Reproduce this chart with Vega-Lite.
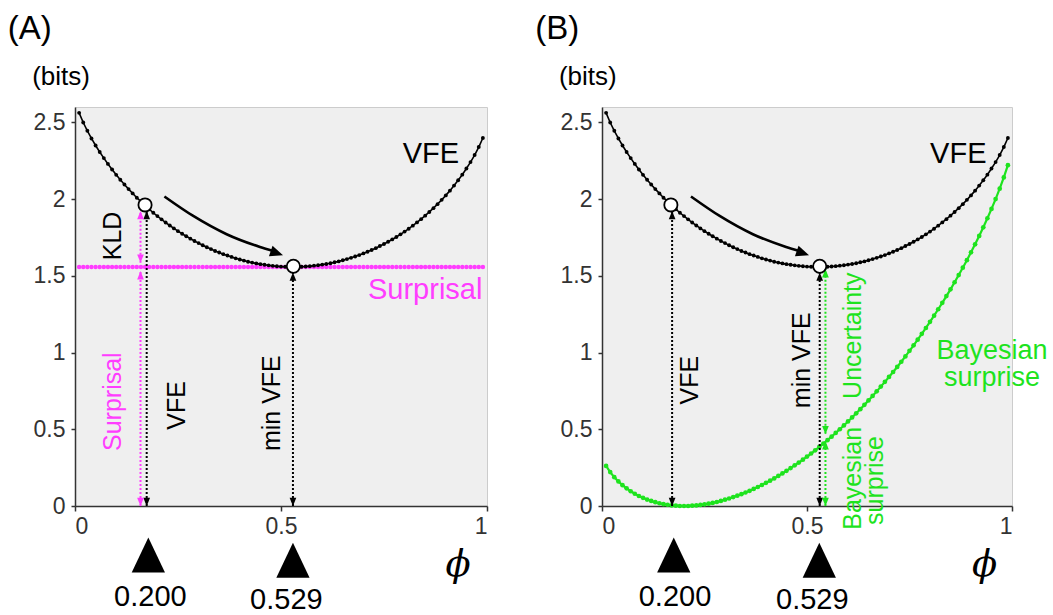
{
"$schema": "https://vega.github.io/schema/vega-lite/v6.json",
"background": "white",
"padding": {"left": 7, "top": 12, "right": 0, "bottom": 0},
"spacing": 115,
"bounds": "flush",
"config": {
  "font": "Liberation Sans",
  "view": {"fill": "#efefef", "stroke": "#cccccc", "strokeWidth": 1},
  "axis": {"domainColor": "#333333", "tickColor": "#333333", "labelColor": "#333333", "labelFont": "Liberation Sans", "labelFontSize": 23, "grid": false, "domainWidth": 1.5, "tickWidth": 1.5},
  "axisX": {"tickSize": 5, "labelPadding": 4},
  "axisY": {"tickSize": 4, "labelPadding": 6}
},
"datasets": {
  "curve": [
    {"phi":0.01,"vfe":2.562,"bs":0.261,"surprisal":1.558},{"phi":0.02,"vfe":2.499,"bs":0.221,"surprisal":1.558},{"phi":0.03,"vfe":2.445,"bs":0.188,"surprisal":1.558},{"phi":0.04,"vfe":2.395,"bs":0.160,"surprisal":1.558},{"phi":0.05,"vfe":2.349,"bs":0.136,"surprisal":1.558},
    {"phi":0.06,"vfe":2.307,"bs":0.115,"surprisal":1.558},{"phi":0.07,"vfe":2.267,"bs":0.096,"surprisal":1.558},{"phi":0.08,"vfe":2.229,"bs":0.080,"surprisal":1.558},{"phi":0.09,"vfe":2.193,"bs":0.065,"surprisal":1.558},{"phi":0.10,"vfe":2.158,"bs":0.053,"surprisal":1.558},
    {"phi":0.11,"vfe":2.126,"bs":0.042,"surprisal":1.558},{"phi":0.12,"vfe":2.095,"bs":0.033,"surprisal":1.558},{"phi":0.13,"vfe":2.065,"bs":0.025,"surprisal":1.558},{"phi":0.14,"vfe":2.037,"bs":0.018,"surprisal":1.558},{"phi":0.15,"vfe":2.009,"bs":0.012,"surprisal":1.558},
    {"phi":0.16,"vfe":1.983,"bs":0.008,"surprisal":1.558},{"phi":0.17,"vfe":1.958,"bs":0.004,"surprisal":1.558},{"phi":0.18,"vfe":1.934,"bs":0.002,"surprisal":1.558},{"phi":0.19,"vfe":1.911,"bs":0.000,"surprisal":1.558},{"phi":0.20,"vfe":1.889,"bs":0.000,"surprisal":1.558},
    {"phi":0.21,"vfe":1.868,"bs":0.000,"surprisal":1.558},{"phi":0.22,"vfe":1.847,"bs":0.002,"surprisal":1.558},{"phi":0.23,"vfe":1.828,"bs":0.004,"surprisal":1.558},{"phi":0.24,"vfe":1.809,"bs":0.007,"surprisal":1.558},{"phi":0.25,"vfe":1.791,"bs":0.011,"surprisal":1.558},
    {"phi":0.26,"vfe":1.774,"bs":0.015,"surprisal":1.558},{"phi":0.27,"vfe":1.758,"bs":0.020,"surprisal":1.558},{"phi":0.28,"vfe":1.742,"bs":0.026,"surprisal":1.558},{"phi":0.29,"vfe":1.727,"bs":0.033,"surprisal":1.558},{"phi":0.30,"vfe":1.713,"bs":0.041,"surprisal":1.558},
    {"phi":0.31,"vfe":1.699,"bs":0.049,"surprisal":1.558},{"phi":0.32,"vfe":1.686,"bs":0.058,"surprisal":1.558},{"phi":0.33,"vfe":1.674,"bs":0.067,"surprisal":1.558},{"phi":0.34,"vfe":1.662,"bs":0.077,"surprisal":1.558},{"phi":0.35,"vfe":1.652,"bs":0.088,"surprisal":1.558},
    {"phi":0.36,"vfe":1.641,"bs":0.099,"surprisal":1.558},{"phi":0.37,"vfe":1.632,"bs":0.111,"surprisal":1.558},{"phi":0.38,"vfe":1.623,"bs":0.124,"surprisal":1.558},{"phi":0.39,"vfe":1.614,"bs":0.137,"surprisal":1.558},{"phi":0.40,"vfe":1.606,"bs":0.151,"surprisal":1.558},
    {"phi":0.41,"vfe":1.599,"bs":0.165,"surprisal":1.558},{"phi":0.42,"vfe":1.592,"bs":0.180,"surprisal":1.558},{"phi":0.43,"vfe":1.586,"bs":0.196,"surprisal":1.558},{"phi":0.44,"vfe":1.581,"bs":0.212,"surprisal":1.558},{"phi":0.45,"vfe":1.576,"bs":0.229,"surprisal":1.558},
    {"phi":0.46,"vfe":1.572,"bs":0.247,"surprisal":1.558},{"phi":0.47,"vfe":1.568,"bs":0.265,"surprisal":1.558},{"phi":0.48,"vfe":1.565,"bs":0.283,"surprisal":1.558},{"phi":0.49,"vfe":1.562,"bs":0.302,"surprisal":1.558},{"phi":0.50,"vfe":1.560,"bs":0.322,"surprisal":1.558},
    {"phi":0.51,"vfe":1.559,"bs":0.342,"surprisal":1.558},{"phi":0.52,"vfe":1.558,"bs":0.363,"surprisal":1.558},{"phi":0.53,"vfe":1.558,"bs":0.385,"surprisal":1.558},{"phi":0.54,"vfe":1.558,"bs":0.407,"surprisal":1.558},{"phi":0.55,"vfe":1.559,"bs":0.429,"surprisal":1.558},
    {"phi":0.56,"vfe":1.561,"bs":0.452,"surprisal":1.558},{"phi":0.57,"vfe":1.563,"bs":0.476,"surprisal":1.558},{"phi":0.58,"vfe":1.566,"bs":0.500,"surprisal":1.558},{"phi":0.59,"vfe":1.569,"bs":0.525,"surprisal":1.558},{"phi":0.60,"vfe":1.573,"bs":0.551,"surprisal":1.558},
    {"phi":0.61,"vfe":1.577,"bs":0.577,"surprisal":1.558},{"phi":0.62,"vfe":1.582,"bs":0.604,"surprisal":1.558},{"phi":0.63,"vfe":1.588,"bs":0.631,"surprisal":1.558},{"phi":0.64,"vfe":1.594,"bs":0.659,"surprisal":1.558},{"phi":0.65,"vfe":1.601,"bs":0.688,"surprisal":1.558},
    {"phi":0.66,"vfe":1.609,"bs":0.717,"surprisal":1.558},{"phi":0.67,"vfe":1.617,"bs":0.747,"surprisal":1.558},{"phi":0.68,"vfe":1.626,"bs":0.778,"surprisal":1.558},{"phi":0.69,"vfe":1.635,"bs":0.809,"surprisal":1.558},{"phi":0.70,"vfe":1.646,"bs":0.841,"surprisal":1.558},
    {"phi":0.71,"vfe":1.657,"bs":0.873,"surprisal":1.558},{"phi":0.72,"vfe":1.668,"bs":0.906,"surprisal":1.558},{"phi":0.73,"vfe":1.680,"bs":0.940,"surprisal":1.558},{"phi":0.74,"vfe":1.694,"bs":0.975,"surprisal":1.558},{"phi":0.75,"vfe":1.707,"bs":1.011,"surprisal":1.558},
    {"phi":0.76,"vfe":1.722,"bs":1.047,"surprisal":1.558},{"phi":0.77,"vfe":1.737,"bs":1.084,"surprisal":1.558},{"phi":0.78,"vfe":1.753,"bs":1.122,"surprisal":1.558},{"phi":0.79,"vfe":1.770,"bs":1.160,"surprisal":1.558},{"phi":0.80,"vfe":1.788,"bs":1.200,"surprisal":1.558},
    {"phi":0.81,"vfe":1.807,"bs":1.240,"surprisal":1.558},{"phi":0.82,"vfe":1.827,"bs":1.282,"surprisal":1.558},{"phi":0.83,"vfe":1.848,"bs":1.324,"surprisal":1.558},{"phi":0.84,"vfe":1.869,"bs":1.368,"surprisal":1.558},{"phi":0.85,"vfe":1.892,"bs":1.412,"surprisal":1.558},
    {"phi":0.86,"vfe":1.916,"bs":1.458,"surprisal":1.558},{"phi":0.87,"vfe":1.941,"bs":1.505,"surprisal":1.558},{"phi":0.88,"vfe":1.967,"bs":1.553,"surprisal":1.558},{"phi":0.89,"vfe":1.995,"bs":1.602,"surprisal":1.558},{"phi":0.90,"vfe":2.024,"bs":1.653,"surprisal":1.558},
    {"phi":0.91,"vfe":2.055,"bs":1.705,"surprisal":1.558},{"phi":0.92,"vfe":2.088,"bs":1.760,"surprisal":1.558},{"phi":0.93,"vfe":2.123,"bs":1.816,"surprisal":1.558},{"phi":0.94,"vfe":2.159,"bs":1.875,"surprisal":1.558},{"phi":0.95,"vfe":2.199,"bs":1.936,"surprisal":1.558},
    {"phi":0.96,"vfe":2.241,"bs":2.000,"surprisal":1.558},{"phi":0.97,"vfe":2.287,"bs":2.068,"surprisal":1.558},{"phi":0.98,"vfe":2.339,"bs":2.141,"surprisal":1.558},{"phi":0.99,"vfe":2.398,"bs":2.221,"surprisal":1.558}
  ],
  "levels": [{"quantity": "Surprisal", "y": 1.558}],
  "arrows": [
    {"panel":"A","quantity":"VFE","phi":0.174,"y":0,"y2":1.92},
    {"panel":"A","quantity":"min VFE","phi":0.529,"y":0,"y2":1.52},
    {"panel":"A","quantity":"KLD","phi":0.159,"y":1.585,"y2":1.92},
    {"panel":"A","quantity":"Surprisal","phi":0.159,"y":0,"y2":1.53},
    {"panel":"B","quantity":"VFE","phi":0.171,"y":0,"y2":1.92},
    {"panel":"B","quantity":"min VFE","phi":0.531,"y":0,"y2":1.52},
    {"panel":"B","quantity":"Uncertainty","phi":0.545,"y":0.47,"y2":1.545},
    {"panel":"B","quantity":"Bayesian surprise","phi":0.545,"y":0,"y2":0.42}
  ],
  "heads": [
    {"panel":"A","quantity":"VFE","phi":0.174,"y":1.895,"dir":"up"},
    {"panel":"A","quantity":"VFE","phi":0.174,"y":0.026,"dir":"down"},
    {"panel":"A","quantity":"min VFE","phi":0.529,"y":1.495,"dir":"up"},
    {"panel":"A","quantity":"min VFE","phi":0.529,"y":0.026,"dir":"down"},
    {"panel":"A","quantity":"KLD","phi":0.159,"y":1.895,"dir":"up"},
    {"panel":"A","quantity":"KLD","phi":0.159,"y":1.612,"dir":"down"},
    {"panel":"A","quantity":"Surprisal","phi":0.159,"y":1.504,"dir":"up"},
    {"panel":"A","quantity":"Surprisal","phi":0.159,"y":0.026,"dir":"down"},
    {"panel":"B","quantity":"VFE","phi":0.171,"y":1.895,"dir":"up"},
    {"panel":"B","quantity":"VFE","phi":0.171,"y":0.026,"dir":"down"},
    {"panel":"B","quantity":"min VFE","phi":0.531,"y":1.495,"dir":"up"},
    {"panel":"B","quantity":"min VFE","phi":0.531,"y":0.026,"dir":"down"},
    {"panel":"B","quantity":"Uncertainty","phi":0.545,"y":1.517,"dir":"up"},
    {"panel":"B","quantity":"Uncertainty","phi":0.545,"y":0.494,"dir":"down"},
    {"panel":"B","quantity":"Bayesian surprise","phi":0.545,"y":0.396,"dir":"up"},
    {"panel":"B","quantity":"Bayesian surprise","phi":0.545,"y":0.026,"dir":"down"}
  ],
  "states": [
    {"panel":"A","phi":0.170,"y":1.962},{"panel":"A","phi":0.530,"y":1.562},
    {"panel":"B","phi":0.168,"y":1.962},{"panel":"B","phi":0.531,"y":1.562}
  ],
  "descent": [
    {"panel":"A","step":1,"phi":0.217,"y":2.017},{"panel":"A","step":2,"phi":0.287,"y":1.890},{"panel":"A","step":3,"phi":0.368,"y":1.771},{"panel":"A","step":4,"phi":0.449,"y":1.688},{"panel":"A","step":5,"phi":0.481,"y":1.662},
    {"panel":"B","step":1,"phi":0.217,"y":2.017},{"panel":"B","step":2,"phi":0.287,"y":1.890},{"panel":"B","step":3,"phi":0.368,"y":1.771},{"panel":"B","step":4,"phi":0.449,"y":1.688},{"panel":"B","step":5,"phi":0.481,"y":1.662}
  ],
  "descentHead": [{"panel":"A","phi":0.490,"y":1.648},{"panel":"B","phi":0.490,"y":1.648}],
  "markers": [
    {"panel":"A","phi":0.178,"y":-0.32},{"panel":"A","phi":0.529,"y":-0.354},
    {"panel":"B","phi":0.175,"y":-0.32},{"panel":"B","phi":0.530,"y":-0.354}
  ],
  "labels": [
    {"panel":"A","kind":"tag","phi":-0.163,"y":3.107,"text":"(A)"},
    {"panel":"A","kind":"unit","phi":-0.104,"y":2.795,"text":"(bits)"},
    {"panel":"A","kind":"curve","quantity":"VFE","phi":0.864,"y":2.293,"text":"VFE"},
    {"panel":"A","kind":"curve","quantity":"Surprisal","phi":0.85,"y":1.405,"text":"Surprisal"},
    {"panel":"A","kind":"rot","quantity":"KLD","phi":0.093,"y":1.76,"text":"KLD"},
    {"panel":"A","kind":"rot","quantity":"Surprisal","phi":0.092,"y":0.68,"text":"Surprisal"},
    {"panel":"A","kind":"rot","quantity":"VFE","phi":0.247,"y":0.656,"text":"VFE"},
    {"panel":"A","kind":"rot","quantity":"min VFE","phi":0.478,"y":0.67,"text":"min VFE"},
    {"panel":"A","kind":"value","phi":0.183,"y":-0.595,"text":"0.200"},
    {"panel":"A","kind":"value","phi":0.513,"y":-0.615,"text":"0.529"},
    {"panel":"A","kind":"symbol","phi":0.93,"y":-0.387,"text":"ϕ"},
    {"panel":"B","kind":"tag","phi":-0.163,"y":3.107,"text":"(B)"},
    {"panel":"B","kind":"unit","phi":-0.105,"y":2.795,"text":"(bits)"},
    {"panel":"B","kind":"curve","quantity":"VFE","phi":0.869,"y":2.293,"text":"VFE"},
    {"panel":"B","kind":"curve2","quantity":"Bayesian surprise","phi":0.951,"y":1.012,"text":"Bayesian"},
    {"panel":"B","kind":"curve2","quantity":"Bayesian surprise","phi":0.951,"y":0.834,"text":"surprise"},
    {"panel":"B","kind":"rot","quantity":"VFE","phi":0.215,"y":0.82,"text":"VFE"},
    {"panel":"B","kind":"rot","quantity":"min VFE","phi":0.489,"y":0.95,"text":"min VFE"},
    {"panel":"B","kind":"rot","quantity":"Uncertainty","phi":0.611,"y":1.11,"text":"Uncertainty"},
    {"panel":"B","kind":"rot","quantity":"Bayesian surprise","phi":0.612,"y":0.18,"text":"Bayesian"},
    {"panel":"B","kind":"rot","quantity":"Bayesian surprise","phi":0.667,"y":0.166,"text":"surprise"},
    {"panel":"B","kind":"value","phi":0.178,"y":-0.595,"text":"0.200"},
    {"panel":"B","kind":"value","phi":0.513,"y":-0.615,"text":"0.529"},
    {"panel":"B","kind":"symbol","phi":0.933,"y":-0.387,"text":"ϕ"}
  ]
},
"hconcat": [
{
  "width": 412, "height": 399,
  "encoding": {"x": {"field": "phi", "type": "quantitative", "scale": {"domain": [0, 1], "nice": false}, "axis": {"values": [0, 0.5, 1], "format": "~g", "title": null}}},
  "layer": [
    {"data": {"name": "levels"}, "mark": {"type": "rule", "color": "#ff3dff", "strokeWidth": 3},
     "encoding": {"x": {"datum": 0}, "x2": {"datum": 1}, "y": {"field": "y", "type": "quantitative", "scale": {"domain": [0, 2.6], "nice": false}, "axis": {"values": [0,0.5,1,1.5,2,2.5], "format": "~g", "title": null}}}},
    {"data": {"name": "curve"}, "mark": {"type": "point", "shape": "circle", "filled": true, "opacity": 1, "color": "#ff3dff", "size": 20},
     "encoding": {"y": {"field": "surprisal", "type": "quantitative", "axis": {"values": [0,0.5,1,1.5,2,2.5], "format": "~g", "title": null}}}},
    {"data": {"name": "curve"}, "mark": {"type": "line", "color": "#000000", "strokeWidth": 1.6},
     "encoding": {"y": {"field": "vfe", "type": "quantitative", "axis": {"values": [0,0.5,1,1.5,2,2.5], "format": "~g", "title": null}}}},
    {"data": {"name": "curve"}, "mark": {"type": "point", "shape": "circle", "filled": true, "opacity": 1, "color": "#000000", "size": 15},
     "encoding": {"y": {"field": "vfe", "type": "quantitative"}}},
    {"data": {"name": "arrows"}, "transform": [{"filter": "datum.panel === 'A'"}],
     "mark": {"type": "rule", "strokeDash": [2, 2], "strokeWidth": 2},
     "encoding": {"y": {"field": "y", "type": "quantitative"}, "y2": {"field": "y2"},
       "color": {"field": "quantity", "type": "nominal", "legend": null, "scale": {"domain": ["VFE","min VFE","KLD","Surprisal","Uncertainty","Bayesian surprise"], "range": ["#000000","#000000","#ff3dff","#ff3dff","#1ee31e","#1ee31e"]}}}},
    {"data": {"name": "heads"}, "transform": [{"filter": "datum.panel === 'A' && datum.dir === 'up'"}],
     "mark": {"type": "point", "shape": "M0,-1L0.8,1L-0.8,1Z", "size": 70, "filled": true, "opacity": 1},
     "encoding": {"y": {"field": "y", "type": "quantitative"},
       "color": {"field": "quantity", "type": "nominal", "legend": null, "scale": {"domain": ["VFE","min VFE","KLD","Surprisal","Uncertainty","Bayesian surprise"], "range": ["#000000","#000000","#ff3dff","#ff3dff","#1ee31e","#1ee31e"]}}}},
    {"data": {"name": "heads"}, "transform": [{"filter": "datum.panel === 'A' && datum.dir === 'down'"}],
     "mark": {"type": "point", "shape": "M0,1L0.8,-1L-0.8,-1Z", "size": 70, "filled": true, "opacity": 1},
     "encoding": {"y": {"field": "y", "type": "quantitative"},
       "color": {"field": "quantity", "type": "nominal", "legend": null, "scale": {"domain": ["VFE","min VFE","KLD","Surprisal","Uncertainty","Bayesian surprise"], "range": ["#000000","#000000","#ff3dff","#ff3dff","#1ee31e","#1ee31e"]}}}},
    {"data": {"name": "states"}, "transform": [{"filter": "datum.panel === 'A'"}],
     "mark": {"type": "point", "shape": "circle", "size": 175, "filled": true, "fill": "#ffffff", "stroke": "#000000", "strokeWidth": 1.8, "opacity": 1},
     "encoding": {"y": {"field": "y", "type": "quantitative"}}},
    {"data": {"name": "descent"}, "transform": [{"filter": "datum.panel === 'A'"}],
     "mark": {"type": "line", "color": "#000000", "strokeWidth": 2.6, "interpolate": "monotone"},
     "encoding": {"y": {"field": "y", "type": "quantitative"}, "order": {"field": "step"}}},
    {"data": {"name": "descentHead"}, "transform": [{"filter": "datum.panel === 'A'"}],
     "mark": {"type": "point", "shape": "M1,0L-1,-0.85L-1,0.85Z", "size": 169, "angle": 19, "filled": true, "opacity": 1, "color": "#000000"},
     "encoding": {"y": {"field": "y", "type": "quantitative"}}},
    {"data": {"name": "labels"}, "transform": [{"filter": "datum.panel === 'A' && datum.kind === 'tag'"}],
     "mark": {"type": "text", "align": "left", "baseline": "middle", "fontSize": 33, "color": "#000000"},
     "encoding": {"y": {"field": "y", "type": "quantitative"}, "text": {"field": "text"}}},
    {"data": {"name": "labels"}, "transform": [{"filter": "datum.panel === 'A' && datum.kind === 'unit'"}],
     "mark": {"type": "text", "align": "left", "baseline": "middle", "fontSize": 26, "color": "#000000"},
     "encoding": {"y": {"field": "y", "type": "quantitative"}, "text": {"field": "text"}}},
    {"data": {"name": "labels"}, "transform": [{"filter": "datum.panel === 'A' && datum.kind === 'curve'"}],
     "mark": {"type": "text", "align": "center", "baseline": "middle", "fontSize": 29},
     "encoding": {"y": {"field": "y", "type": "quantitative"}, "text": {"field": "text"},
       "fill": {"field": "quantity", "type": "nominal", "legend": null, "scale": {"domain": ["VFE","min VFE","KLD","Surprisal","Uncertainty","Bayesian surprise"], "range": ["#000000","#000000","#000000","#ff3dff","#1ee31e","#1ee31e"]}}}},
    {"data": {"name": "labels"}, "transform": [{"filter": "datum.panel === 'A' && datum.kind === 'rot'"}],
     "mark": {"type": "text", "align": "center", "baseline": "middle", "fontSize": 25, "angle": 270},
     "encoding": {"y": {"field": "y", "type": "quantitative"}, "text": {"field": "text"},
       "fill": {"field": "quantity", "type": "nominal", "legend": null, "scale": {"domain": ["VFE","min VFE","KLD","Surprisal","Uncertainty","Bayesian surprise"], "range": ["#000000","#000000","#000000","#ff3dff","#1ee31e","#1ee31e"]}}}},
    {"data": {"name": "labels"}, "transform": [{"filter": "datum.panel === 'A' && datum.kind === 'value'"}],
     "mark": {"type": "text", "align": "center", "baseline": "middle", "fontSize": 29, "color": "#000000"},
     "encoding": {"y": {"field": "y", "type": "quantitative"}, "text": {"field": "text"}}},
    {"data": {"name": "labels"}, "transform": [{"filter": "datum.panel === 'A' && datum.kind === 'symbol'"}],
     "mark": {"type": "text", "align": "center", "baseline": "middle", "fontSize": 37, "font": "DejaVu Serif", "fontStyle": "italic", "color": "#000000"},
     "encoding": {"y": {"field": "y", "type": "quantitative"}, "text": {"field": "text"}}},
    {"data": {"name": "markers"}, "transform": [{"filter": "datum.panel === 'A'"}],
     "mark": {"type": "point", "shape": "M0,-1L0.95,1L-0.95,1Z", "size": 1225, "filled": true, "opacity": 1, "color": "#000000"},
     "encoding": {"y": {"field": "y", "type": "quantitative"}}}
  ]
},
{
  "width": 410, "height": 399,
  "encoding": {"x": {"field": "phi", "type": "quantitative", "scale": {"domain": [0, 1], "nice": false}, "axis": {"values": [0, 0.5, 1], "format": "~g", "title": null}}},
  "layer": [
    {"data": {"name": "curve"}, "mark": {"type": "line", "color": "#1ee31e", "strokeWidth": 2.2},
     "encoding": {"y": {"field": "bs", "type": "quantitative", "scale": {"domain": [0, 2.6], "nice": false}, "axis": {"values": [0,0.5,1,1.5,2,2.5], "format": "~g", "title": null}}}},
    {"data": {"name": "curve"}, "mark": {"type": "point", "shape": "circle", "filled": true, "opacity": 1, "color": "#1ee31e", "size": 22},
     "encoding": {"y": {"field": "bs", "type": "quantitative"}}},
    {"data": {"name": "curve"}, "mark": {"type": "line", "color": "#000000", "strokeWidth": 1.6},
     "encoding": {"y": {"field": "vfe", "type": "quantitative", "axis": {"values": [0,0.5,1,1.5,2,2.5], "format": "~g", "title": null}}}},
    {"data": {"name": "curve"}, "mark": {"type": "point", "shape": "circle", "filled": true, "opacity": 1, "color": "#000000", "size": 15},
     "encoding": {"y": {"field": "vfe", "type": "quantitative"}}},
    {"data": {"name": "arrows"}, "transform": [{"filter": "datum.panel === 'B'"}],
     "mark": {"type": "rule", "strokeDash": [2, 2], "strokeWidth": 2},
     "encoding": {"y": {"field": "y", "type": "quantitative"}, "y2": {"field": "y2"},
       "color": {"field": "quantity", "type": "nominal", "legend": null, "scale": {"domain": ["VFE","min VFE","KLD","Surprisal","Uncertainty","Bayesian surprise"], "range": ["#000000","#000000","#ff3dff","#ff3dff","#1ee31e","#1ee31e"]}}}},
    {"data": {"name": "heads"}, "transform": [{"filter": "datum.panel === 'B' && datum.dir === 'up'"}],
     "mark": {"type": "point", "shape": "M0,-1L0.8,1L-0.8,1Z", "size": 70, "filled": true, "opacity": 1},
     "encoding": {"y": {"field": "y", "type": "quantitative"},
       "color": {"field": "quantity", "type": "nominal", "legend": null, "scale": {"domain": ["VFE","min VFE","KLD","Surprisal","Uncertainty","Bayesian surprise"], "range": ["#000000","#000000","#ff3dff","#ff3dff","#1ee31e","#1ee31e"]}}}},
    {"data": {"name": "heads"}, "transform": [{"filter": "datum.panel === 'B' && datum.dir === 'down'"}],
     "mark": {"type": "point", "shape": "M0,1L0.8,-1L-0.8,-1Z", "size": 70, "filled": true, "opacity": 1},
     "encoding": {"y": {"field": "y", "type": "quantitative"},
       "color": {"field": "quantity", "type": "nominal", "legend": null, "scale": {"domain": ["VFE","min VFE","KLD","Surprisal","Uncertainty","Bayesian surprise"], "range": ["#000000","#000000","#ff3dff","#ff3dff","#1ee31e","#1ee31e"]}}}},
    {"data": {"name": "states"}, "transform": [{"filter": "datum.panel === 'B'"}],
     "mark": {"type": "point", "shape": "circle", "size": 175, "filled": true, "fill": "#ffffff", "stroke": "#000000", "strokeWidth": 1.8, "opacity": 1},
     "encoding": {"y": {"field": "y", "type": "quantitative"}}},
    {"data": {"name": "descent"}, "transform": [{"filter": "datum.panel === 'B'"}],
     "mark": {"type": "line", "color": "#000000", "strokeWidth": 2.6, "interpolate": "monotone"},
     "encoding": {"y": {"field": "y", "type": "quantitative"}, "order": {"field": "step"}}},
    {"data": {"name": "descentHead"}, "transform": [{"filter": "datum.panel === 'B'"}],
     "mark": {"type": "point", "shape": "M1,0L-1,-0.85L-1,0.85Z", "size": 169, "angle": 19, "filled": true, "opacity": 1, "color": "#000000"},
     "encoding": {"y": {"field": "y", "type": "quantitative"}}},
    {"data": {"name": "labels"}, "transform": [{"filter": "datum.panel === 'B' && datum.kind === 'tag'"}],
     "mark": {"type": "text", "align": "left", "baseline": "middle", "fontSize": 33, "color": "#000000"},
     "encoding": {"y": {"field": "y", "type": "quantitative"}, "text": {"field": "text"}}},
    {"data": {"name": "labels"}, "transform": [{"filter": "datum.panel === 'B' && datum.kind === 'unit'"}],
     "mark": {"type": "text", "align": "left", "baseline": "middle", "fontSize": 26, "color": "#000000"},
     "encoding": {"y": {"field": "y", "type": "quantitative"}, "text": {"field": "text"}}},
    {"data": {"name": "labels"}, "transform": [{"filter": "datum.panel === 'B' && datum.kind === 'curve'"}],
     "mark": {"type": "text", "align": "center", "baseline": "middle", "fontSize": 29},
     "encoding": {"y": {"field": "y", "type": "quantitative"}, "text": {"field": "text"},
       "fill": {"field": "quantity", "type": "nominal", "legend": null, "scale": {"domain": ["VFE","min VFE","KLD","Surprisal","Uncertainty","Bayesian surprise"], "range": ["#000000","#000000","#000000","#ff3dff","#1ee31e","#1ee31e"]}}}},
    {"data": {"name": "labels"}, "transform": [{"filter": "datum.panel === 'B' && datum.kind === 'curve2'"}],
     "mark": {"type": "text", "align": "center", "baseline": "middle", "fontSize": 27},
     "encoding": {"y": {"field": "y", "type": "quantitative"}, "text": {"field": "text"},
       "fill": {"field": "quantity", "type": "nominal", "legend": null, "scale": {"domain": ["VFE","min VFE","KLD","Surprisal","Uncertainty","Bayesian surprise"], "range": ["#000000","#000000","#000000","#ff3dff","#1ee31e","#1ee31e"]}}}},
    {"data": {"name": "labels"}, "transform": [{"filter": "datum.panel === 'B' && datum.kind === 'rot'"}],
     "mark": {"type": "text", "align": "center", "baseline": "middle", "fontSize": 25, "angle": 270},
     "encoding": {"y": {"field": "y", "type": "quantitative"}, "text": {"field": "text"},
       "fill": {"field": "quantity", "type": "nominal", "legend": null, "scale": {"domain": ["VFE","min VFE","KLD","Surprisal","Uncertainty","Bayesian surprise"], "range": ["#000000","#000000","#000000","#ff3dff","#1ee31e","#1ee31e"]}}}},
    {"data": {"name": "labels"}, "transform": [{"filter": "datum.panel === 'B' && datum.kind === 'value'"}],
     "mark": {"type": "text", "align": "center", "baseline": "middle", "fontSize": 29, "color": "#000000"},
     "encoding": {"y": {"field": "y", "type": "quantitative"}, "text": {"field": "text"}}},
    {"data": {"name": "labels"}, "transform": [{"filter": "datum.panel === 'B' && datum.kind === 'symbol'"}],
     "mark": {"type": "text", "align": "center", "baseline": "middle", "fontSize": 37, "font": "DejaVu Serif", "fontStyle": "italic", "color": "#000000"},
     "encoding": {"y": {"field": "y", "type": "quantitative"}, "text": {"field": "text"}}},
    {"data": {"name": "markers"}, "transform": [{"filter": "datum.panel === 'B'"}],
     "mark": {"type": "point", "shape": "M0,-1L0.95,1L-0.95,1Z", "size": 1225, "filled": true, "opacity": 1, "color": "#000000"},
     "encoding": {"y": {"field": "y", "type": "quantitative"}}}
  ]
}
]
}
